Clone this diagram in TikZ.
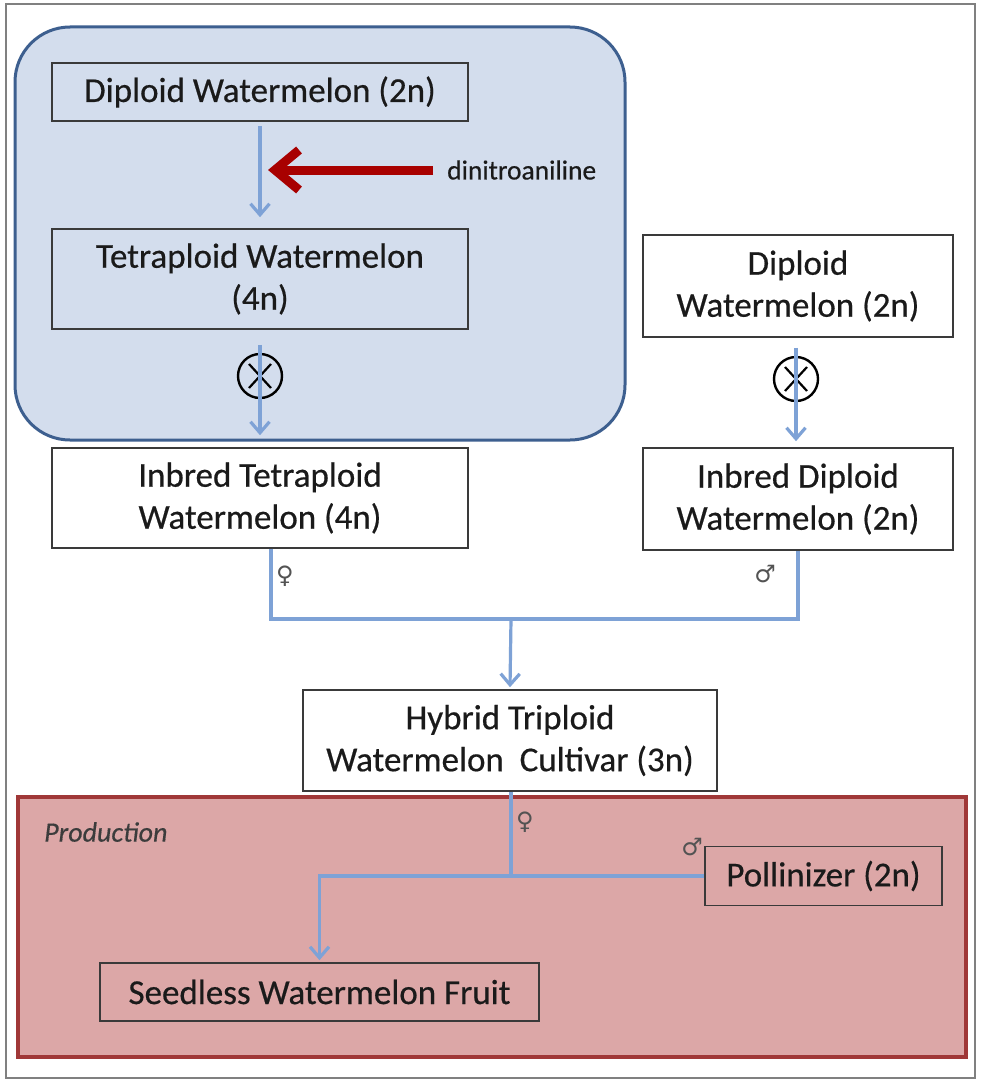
\documentclass[tikz,border=0pt]{standalone}
\usepackage{fontspec}
\setmainfont{Carlito}[FakeBold=0.5,ItalicFeatures={FakeBold=0.4}]
\newfontfamily\symfont{DejaVu Sans}
\usetikzlibrary{arrows.meta}
\definecolor{conn}{HTML}{7EA2D6}
\definecolor{boxline}{HTML}{3A3A3A}
\definecolor{textc}{HTML}{1A1A1A}
\definecolor{bluefill}{HTML}{D3DDED}
\definecolor{blueline}{HTML}{3D5F8F}
\definecolor{prodfill}{HTML}{DCA7A7}
\definecolor{prodline}{HTML}{A03838}
\definecolor{redarr}{HTML}{A80000}
\begin{document}
\begin{tikzpicture}[x=1pt,y=-1pt,
  box/.style={draw=boxline,line width=1.6pt,align=center,inner sep=0pt,
    text=textc,font=\fontsize{35}{42}\selectfont},
  link/.style={draw=conn,line width=3.2pt},
  tip/.style={-{Straight Barb[length=11pt,width=19pt]}},
  sym/.style={font=\symfont\fontsize{24}{26}\selectfont,text=textc!75,inner sep=0pt},
  cross/.style={circle,draw=black,line width=2.4pt,minimum size=44pt,inner sep=0pt},
]
\fill[white] (0,0) rectangle (980,1081);
\useasboundingbox (0,0) rectangle (980,1081);
\draw[gray,line width=1.5pt] (6,4) rectangle (975,1078);

% blue region
\draw[fill=bluefill,draw=blueline,line width=3pt,rounded corners=55pt] (15,27) rectangle (625,440);
% production region
\draw[fill=prodfill,draw=prodline,line width=3.5pt] (18,797) rectangle (966,1057);

\node[box,minimum width=416pt,minimum height=58pt] (dip) at (260,92) {Diploid Watermelon (2n)};
\node[box,minimum width=416pt,minimum height=100pt] (tet) at (260,279) {Tetraploid Watermelon\\(4n)};
\node[box,fill=white,minimum width=416pt,minimum height=100pt] (itet) at (260,498) {Inbred Tetraploid\\Watermelon (4n)};
\node[box,fill=white,minimum width=310pt,minimum height=102pt] (dipr) at (798,286) {Diploid\\Watermelon (2n)};
\node[box,fill=white,minimum width=310pt,minimum height=102pt] (idip) at (798,499) {Inbred Diploid\\Watermelon (2n)};
\node[box,fill=white,minimum width=414pt,minimum height=101pt] (hyb) at (510,740.5) {Hybrid Triploid\\Watermelon\ \ Cultivar (3n)};
\node[box,minimum width=237pt,minimum height=59pt] (poll) at (823.5,876) {Pollinizer (2n)};
\node[box,minimum width=439pt,minimum height=58pt] (seed) at (319.5,992) {Seedless Watermelon Fruit};

% dinitroaniline
\node[anchor=west,inner sep=0pt,text=textc,font=\fontsize{27.5}{30}\selectfont] (dnl) at (447,170) {dinitroaniline};
\coordinate (redtip) at (268,170);

% crosses
\node[cross] (x1) at (260,376) {};
\node[cross] (x2) at (796,379) {};
\foreach \c in {x1,x2}{
  \draw[line width=2.2pt] ([shift={(-11pt,12pt)}]\c.center) -- ([shift={(11pt,-12pt)}]\c.center);
  \draw[line width=2.2pt] ([shift={(11pt,12pt)}]\c.center) -- ([shift={(-11pt,-12pt)}]\c.center);
}

% connectors
\draw[link,tip] ([yshift=-4pt]dip.south) -- ([yshift=11pt]tet.north);
\draw[draw=redarr,line width=9pt,-{Straight Barb[length=24pt,width=40pt]}] ([xshift=-14pt]dnl.west) -- (redtip);
\draw[link,tip] ([yshift=8pt]x1.north) -- ([yshift=12pt]itet.north);
\draw[link,tip] ([yshift=8pt]x2.north) -- ([yshift=6pt]x2.north |- idip.north);

\coordinate (junc) at (511,619);
\draw[link] ([xshift=11pt]itet.south) |- (junc) -| (idip.south);
\draw[link,tip] (junc) -- ([yshift=2pt]hyb.north);

\coordinate (junc2) at (511,876);
\draw[link] ([xshift=1pt]hyb.south) -- (junc2);
\draw[link,tip] (poll.west) -| ([yshift=2pt]seed.north);

% sex symbols
\node[sym] (f1) at (285,576) {♀};
\node[sym] (m1) at (765,574) {♂};
\node[sym] (f2) at (525,822) {♀};
\node[sym] (m2) at (692,847) {♂};

\node[anchor=west,inner sep=0pt,text=textc!85,font=\itshape\fontsize{28}{30}\selectfont] (prod) at (44,832) {Production};
\end{tikzpicture}
\end{document}
